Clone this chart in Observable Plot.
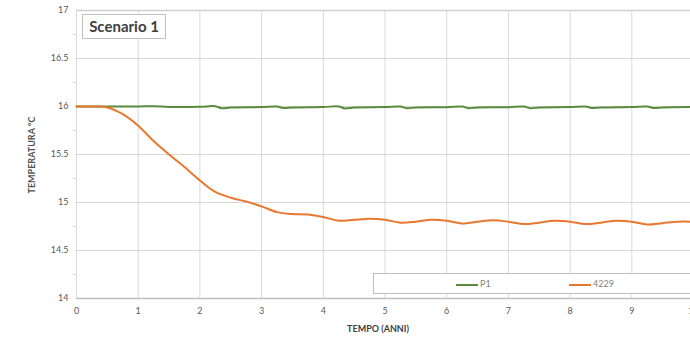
<!DOCTYPE html>
<html><head><meta charset="utf-8">
<script src="https://cdn.jsdelivr.net/npm/d3@7"></script>
<script src="https://cdn.jsdelivr.net/npm/@observablehq/plot@0.6"></script>
<style>
html,body{margin:0;padding:0;background:#fff;overflow:hidden;}
#wrap{position:relative;width:690px;height:340px;overflow:hidden;font-family:Lato,"Open Sans",sans-serif;}
#title{position:absolute;left:82px;top:14px;width:82px;height:23px;border:1px solid #bfbfbf;background:#fff;font-size:15px;font-weight:bold;color:#404040;line-height:23px;text-align:center;}
#legend{position:absolute;left:373px;top:273px;width:330px;height:19px;border:1px solid #bfbfbf;background:#fff;font-size:9px;color:#7f7f7f;}
.li{position:absolute;top:0;height:19px;line-height:19px;white-space:nowrap;}
.sw{display:inline-block;width:22px;height:2px;vertical-align:middle;margin-right:2px;}
#ylab{position:absolute;left:31px;top:155px;transform:translate(-50%,-50%) rotate(-90deg);font-size:9px;font-weight:bold;color:#505050;white-space:nowrap;}
#xlab{position:absolute;left:378px;top:328px;transform:translate(-50%,-50%);font-size:9px;font-weight:bold;color:#404040;white-space:nowrap;}
</style></head>
<body>
<div id="wrap">
<div id="chart"></div>
<div id="title">Scenario 1</div>
<div id="legend"></div>
<div id="ylab"></div>
<div id="xlab"></div>
</div>
<script>
const xTicks = [0,1,2,3,4,5,6,7,8,9,10];
const yTicks = [14,14.5,15,15.5,16,16.5,17];
const yMinor = [14.25,14.75,15.25,15.75,16.25,16.75];
const yLabel = "TEMPERATURA °C";
const xLabel = "TEMPO (ANNI)";
const seriesNames = ["P1","4229"];
const seriesColors = ["#5b8a3c","#e8782f"];

const timeP1 = [0,0.5,1,1.25,1.5,2,2.25,2.35,2.5,3,3.25,3.35,3.5,4,4.25,4.35,4.5,5,5.25,5.35,5.5,6,6.25,6.35,6.5,7,7.25,7.35,7.5,8,8.25,8.35,8.5,9,9.25,9.35,9.5,10];
const tempP1 = [16.0,16.0,16.0,16.003,15.996,15.997,16.003,15.982,15.99,15.994,16.0,15.985,15.99,15.995,16.0,15.98,15.99,15.994,16.0,15.983,15.99,15.993,16.0,15.983,15.99,15.993,16.0,15.983,15.99,15.994,16.0,15.984,15.99,15.995,16.0,15.984,15.99,15.995];

const time4229 = [0,0.25,0.5,0.75,1,1.25,1.5,1.75,2,2.25,2.5,2.75,3,3.25,3.5,3.75,4,4.25,4.5,4.75,5,5.25,5.5,5.75,6,6.25,6.5,6.75,7,7.25,7.5,7.75,8,8.25,8.5,8.75,9,9.25,9.5,9.75,10];
const temp4229 = [16.0,16.0,15.99,15.92,15.80,15.64,15.50,15.37,15.23,15.11,15.05,15.01,14.96,14.90,14.88,14.875,14.85,14.81,14.82,14.83,14.82,14.79,14.80,14.82,14.81,14.78,14.80,14.815,14.80,14.775,14.79,14.81,14.80,14.775,14.79,14.81,14.80,14.77,14.785,14.80,14.80];

const data = [
  ...timeP1.map((t,i)=>({t, v: tempP1[i], s: seriesNames[0]})),
  ...time4229.map((t,i)=>({t, v: temp4229[i], s: seriesNames[1]}))
];

const chart = Plot.plot({
  width: 690, height: 340,
  marginLeft: 76, marginTop: 10, marginBottom: 42, marginRight: 0,
  x: {domain: [0,10], range: [76,693], label: null},
  y: {domain: [14,17], label: null},
  color: {domain: seriesNames, range: seriesColors},
  style: {fontFamily: "Lato, 'Open Sans', sans-serif", fontSize: "9px", color: "#595959", background: "#fff"},
  marks: [
    Plot.gridX(xTicks, {stroke: "#d9d9d9", strokeOpacity: 1}),
    Plot.gridY(yTicks, {stroke: "#d9d9d9", strokeOpacity: 1}),
    Plot.ruleX([0], {stroke: "#d9d9d9"}),
    Plot.ruleY([17], {stroke: "#d0d0d0", strokeWidth: 1.5}),
    Plot.ruleY([14], {stroke: "#bfbfbf", strokeWidth: 1.5}),
    Plot.axisX(xTicks, {tickSize: 0, tickPadding: 9, fill: "#595959", label: null}),
    Plot.axisY(yTicks, {tickSize: 0, tickPadding: 8, fill: "#595959", label: null, tickFormat: d => String(d)}),
    Plot.axisY(yMinor, {tickSize: 3, tickFormat: () => "", stroke: "#d9d9d9", label: null}),
    Plot.line(data, {x: "t", y: "v", z: "s", stroke: "s", strokeWidth: 2, curve: "catmull-rom"})
  ]
});
document.getElementById("chart").appendChild(chart);

document.getElementById("ylab").textContent = yLabel;
document.getElementById("xlab").textContent = xLabel;
const legend = document.getElementById("legend");
const legendX = [82, 195];
seriesNames.forEach((n,i)=>{
  const d = document.createElement("div");
  d.className = "li";
  d.style.left = legendX[i] + "px";
  d.innerHTML = `<span class="sw" style="background:${seriesColors[i]}"></span>${n}`;
  legend.appendChild(d);
});
</script>
</body></html>
